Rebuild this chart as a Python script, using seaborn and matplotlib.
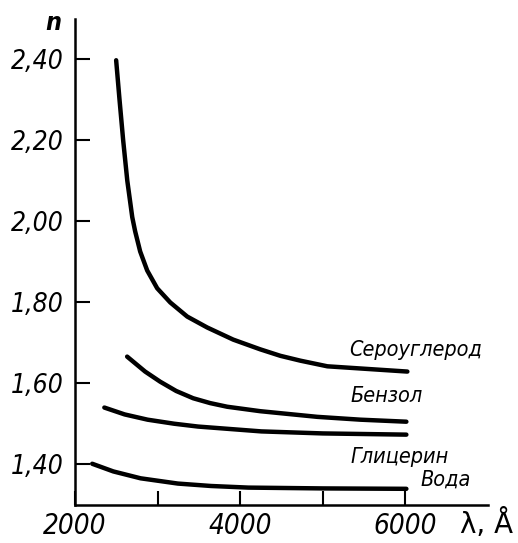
import matplotlib
matplotlib.use('Agg')
import matplotlib.pyplot as plt
import numpy as np
import pandas as pd
import seaborn as sns

# values (wavelength in angstrom, refractive index)
cs2_wl = [2497, 2538, 2582, 2632, 2692, 2727, 2788, 2873, 2994, 3152,
          3358, 3600, 3915, 4242, 4485, 4727, 5055, 6024]
cs2_n = [2.398, 2.300, 2.200, 2.100, 2.010, 1.975, 1.925, 1.878, 1.834,
         1.799, 1.764, 1.737, 1.707, 1.683, 1.667, 1.655, 1.641, 1.628]

benz_wl = [2630, 2848, 3030, 3224, 3430, 3636, 3842, 4242, 4933, 5455, 6012]
benz_n = [1.665, 1.628, 1.603, 1.580, 1.562, 1.550, 1.541, 1.530, 1.516,
          1.509, 1.504]

glyc_wl = [2354, 2600, 2878, 3200, 3488, 4256, 5000, 6012]
glyc_n = [1.539, 1.522, 1.509, 1.499, 1.492, 1.480, 1.475, 1.472]

water_wl = [2207, 2463, 2793, 3244, 3646, 4098, 5000, 6012]
water_n = [1.400, 1.381, 1.364, 1.351, 1.345, 1.341, 1.339, 1.338]

names = ['Сероуглерод', 'Бензол', 'Глицерин', 'Вода']
label_pos = [(5320, 1.667), (5333, 1.553), (5333, 1.402), (6180, 1.346)]

y_ticks = [1.40, 1.60, 1.80, 2.00, 2.20, 2.40]
y_labels = ['1,40', '1,60', '1,80', '2,00', '2,20', '2,40']
x_ticks = [2000, 3000, 4000, 5000, 6000]
x_labels = ['2000', '', '4000', '', '6000']


def main():
    sns.set_style('white')
    fam = ['DejaVu Sans']
    plt.rcParams['font.family'] = fam
    plt.rcParams['text.color'] = 'black'
    font = dict(style='italic', family=fam, stretch='condensed')

    frames = []
    for name, wl, n in zip(names, [cs2_wl, benz_wl, glyc_wl, water_wl],
                           [cs2_n, benz_n, glyc_n, water_n]):
        frames.append(pd.DataFrame({'wl': wl, 'n': n, 'medium': name}))
    df = pd.concat(frames, ignore_index=True)

    fig = plt.figure(figsize=(5.18, 5.43), dpi=100)
    ax = fig.add_axes([0.145, 0.070, 0.797, 0.895])

    sns.lineplot(data=df, x='wl', y='n', units='medium', estimator=None,
                 sort=False, color='black', linewidth=3.2, ax=ax,
                 legend=False)

    ax.set_xlim(2000, 7000)
    ax.set_ylim(1.298, 2.50)
    sns.despine(ax=ax)
    for s in ['left', 'bottom']:
        ax.spines[s].set_linewidth(1.8)
        ax.spines[s].set_color('black')

    ax.set_yticks(y_ticks)
    ax.set_yticklabels(y_labels, fontsize=19, **font)
    ax.set_xticks(x_ticks)
    ax.set_xticklabels(x_labels, fontsize=20, **font)
    ax.tick_params(axis='y', direction='in', length=11, width=1.5, pad=8.5,
                   left=True, colors='black')
    ax.tick_params(axis='x', direction='in', length=10, width=1.5, pad=5,
                   bottom=True, colors='black')
    ax.set_xlabel('')
    ax.set_ylabel('')

    for name, (x, y) in zip(names, label_pos):
        ax.text(x, y, name, fontsize=15.5, ha='left', va='baseline', **font)

    fig.text(0.087, 0.945, 'n', fontsize=18, ha='left', va='baseline',
             fontweight='bold', **font)
    fig.text(0.888, 0.018, 'λ, Å', fontsize=20, family=['DejaVu Sans'],
             ha='left', va='baseline')

    fig.savefig('out.png', dpi=100)
    plt.close(fig)


if __name__ == '__main__':
    main()
